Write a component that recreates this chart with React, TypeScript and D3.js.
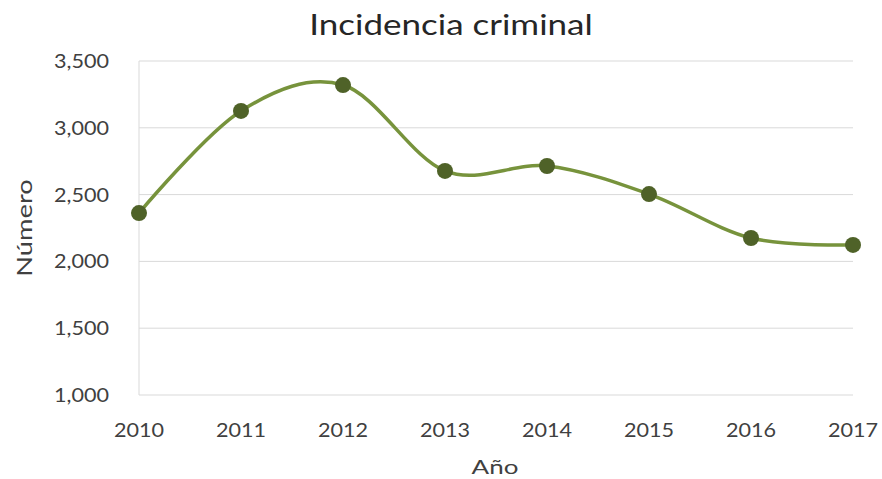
import React, { useEffect, useRef } from "react";
import * as d3 from "d3";

const years = ["2010", "2011", "2012", "2013", "2014", "2015", "2016", "2017"];
const values = [2362, 3126, 3320, 2677, 2714, 2504, 2175, 2123];
const yTicks = [1000, 1500, 2000, 2500, 3000, 3500];

const W = 882;
const H = 479;
const FONT = "Lato, 'Open Sans', sans-serif";

export default function App() {
    const svgRef = useRef<SVGSVGElement>(null);

    useEffect(() => {
        if (!svgRef.current) return;
        const svg = d3.select(svgRef.current);
        svg.selectAll("*").remove();

        const margin = { top: 61, right: 29, bottom: 84, left: 139 };
        const width = W - margin.left - margin.right;
        const height = H - margin.top - margin.bottom;

        const g = svg.append("g").attr("transform", `translate(${margin.left},${margin.top})`);

        const x = d3.scalePoint().domain(years).range([0, width]);
        const y = d3.scaleLinear().domain([1000, 3500]).range([height, 0]);

        // gridlines
        g.append("g")
            .selectAll("line")
            .data(yTicks)
            .join("line")
            .attr("x1", 0)
            .attr("x2", width)
            .attr("y1", (d) => y(d))
            .attr("y2", (d) => y(d))
            .attr("stroke", "#d9d9d9")
            .attr("stroke-width", 1);

        // left axis line
        g.append("line")
            .attr("x1", 0)
            .attr("x2", 0)
            .attr("y1", 0)
            .attr("y2", height)
            .attr("stroke", "#d9d9d9")
            .attr("stroke-width", 1);

        // the source picture is stretched sideways, so text gets a scaleX
        const tickSx = 1.08;

        // y tick labels
        g.append("g")
            .selectAll("text")
            .data(yTicks)
            .join("text")
            .attr("transform", (d) => `translate(-30,${y(d) + 7}) scale(${tickSx},1)`)
            .attr("text-anchor", "end")
            .attr("font-family", FONT)
            .attr("font-size", 20)
            .attr("fill", "#404040")
            .text((d) => d3.format(",")(d));

        // x tick labels
        g.append("g")
            .selectAll("text")
            .data(years)
            .join("text")
            .attr("transform", (d) => `translate(${x(d)},${height + 42}) scale(${tickSx},1)`)
            .attr("text-anchor", "middle")
            .attr("font-family", FONT)
            .attr("font-size", 20)
            .attr("fill", "#404040")
            .text((d) => d);

        // smoothed line
        const line = d3.line<number>()
            .x((_, i) => x(years[i])!)
            .y((d) => y(d))
            .curve(d3.curveCardinal.tension(0));

        g.append("path")
            .datum(values)
            .attr("fill", "none")
            .attr("stroke", "#77933c")
            .attr("stroke-width", 3.5)
            .attr("d", line);

        // markers
        g.append("g")
            .selectAll("circle")
            .data(values)
            .join("circle")
            .attr("cx", (_, i) => x(years[i])!)
            .attr("cy", (d) => y(d))
            .attr("r", 8)
            .attr("fill", "#4f6228");

        // title
        svg.append("text")
            .attr("transform", "translate(451,35) scale(1.25,1)")
            .attr("text-anchor", "middle")
            .attr("font-family", FONT)
            .attr("font-size", 28)
            .attr("fill", "#262626")
            .text("Incidencia criminal");

        // axis titles
        svg.append("text")
            .attr("transform", "translate(495,474) scale(1.3,1)")
            .attr("text-anchor", "middle")
            .attr("font-family", FONT)
            .attr("font-size", 20)
            .attr("fill", "#404040")
            .text("Año");

        svg.append("text")
            .attr("transform", `translate(32,${margin.top + height / 2}) rotate(-90) scale(1.3,1)`)
            .attr("text-anchor", "middle")
            .attr("font-family", FONT)
            .attr("font-size", 21)
            .attr("fill", "#404040")
            .text("Número");
    }, []);

    return (
        <svg
            ref={svgRef}
            width={W}
            height={H}
            style={{ position: "absolute", left: 0, top: 0, background: "#fff" }}
        />
    );
}
